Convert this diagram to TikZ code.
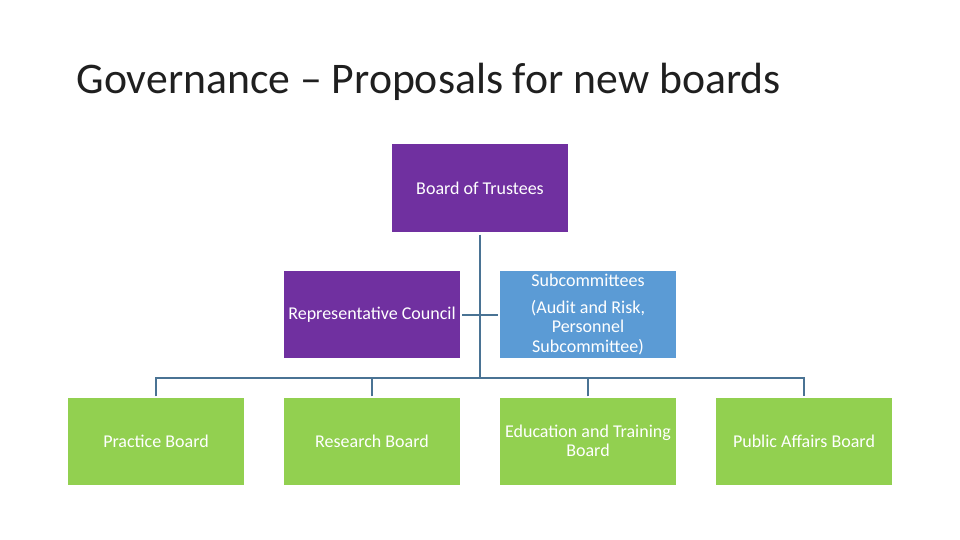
\documentclass[tikz,border=0pt]{standalone}
\usepackage{fontspec}
\setmainfont{Carlito}
\definecolor{trustee}{HTML}{7030A0}
\definecolor{subcom}{HTML}{5B9BD5}
\definecolor{board}{HTML}{92D050}
\definecolor{link}{HTML}{4A7394}
\tikzset{
  box/.style={rectangle,minimum width=176pt,minimum height=87pt,inner sep=2pt,
    text=white,align=center,font=\fontsize{18}{19.5}\selectfont},
  wire/.style={draw=link,line width=2pt}
}
\begin{document}
\begin{tikzpicture}[x=1pt,y=-1pt]
  \useasboundingbox (0,0) rectangle (960,540);
  \node[anchor=base west,font=\fontsize{43.7}{50}\selectfont,text=black!88] (title) at (73,94)
    {Governance – Proposals for new boards};
  \node[box,fill=trustee] (trustees) at (480,188) {Board of Trustees};
  \node[box,fill=trustee] (council) at (372,314.5) {Representative Council};
  \node[box,fill=subcom] (subcom) at (588,314.5)
    {Subcommittees\\[7pt](Audit and Risk,\\Personnel\\Subcommittee)};
  \node[box,fill=board] (practice) at (156,441) {Practice Board};
  \node[box,fill=board] (research) at (372,441) {Research Board};
  \node[box,fill=board] (education) at (588,441) {Education and Training\\Board};
  \node[box,fill=board] (public) at (804,441) {Public Affairs Board};
  \coordinate (bus) at (480,378);
  % trunk and bus
  \draw[wire] ([yshift=-3pt]trustees.south) -- (bus);
  \draw[wire] ([yshift=1pt]practice.north) |- (bus) -| ([yshift=1pt]public.north);
  \foreach \b in {research,education} {
    \draw[wire] ([yshift=1pt]\b.north) -- (\b.north |- bus);
  }
  \draw[wire,shorten <=2pt,shorten >=2pt] (council.east) -- (subcom.west);
\end{tikzpicture}
\end{document}
